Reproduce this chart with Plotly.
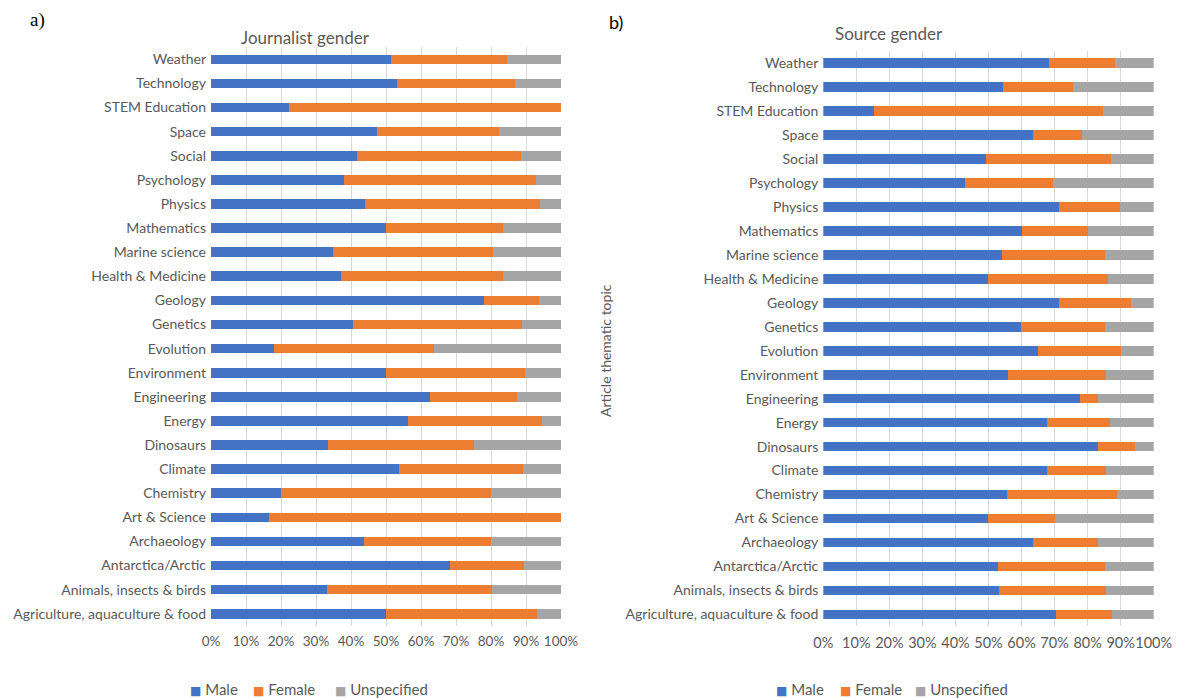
import plotly.graph_objects as go

W, H = 1178, 698

topics = [
    "Weather", "Technology", "STEM Education", "Space", "Social", "Psychology",
    "Physics", "Mathematics", "Marine science", "Health & Medicine", "Geology",
    "Genetics", "Evolution", "Environment", "Engineering", "Energy", "Dinosaurs",
    "Climate", "Chemistry", "Art & Science", "Archaeology", "Antarctica/Arctic",
    "Animals, insects & birds", "Agriculture, aquaculture & food",
]

# a) Journalist gender (% of articles)
journalist_male = [51.4, 53.1, 22.2, 47.4, 41.7, 38.0, 44.0, 50.0, 34.9, 37.0, 78.1, 40.6,
                   18.1, 50.0, 62.5, 56.3, 33.3, 53.7, 20.0, 16.6, 43.6, 68.3, 33.1, 50.0]
journalist_female = [33.2, 33.7, 77.8, 34.8, 46.8, 54.9, 50.0, 33.3, 45.6, 46.5, 15.6, 48.3,
                     45.5, 39.7, 25.0, 38.3, 41.7, 35.5, 60.0, 83.4, 36.4, 21.1, 47.3, 43.1]
journalist_unspecified = [15.4, 13.2, 0.0, 17.8, 11.5, 7.1, 6.0, 16.7, 19.5, 16.5, 6.3, 11.1,
                          36.4, 10.3, 12.5, 5.4, 25.0, 10.8, 20.0, 0.0, 20.0, 10.6, 19.6, 6.9]

# b) Source gender (% of sources)
source_male = [68.2, 54.5, 15.3, 63.4, 49.3, 42.9, 71.2, 60.0, 54.1, 50.0, 71.2, 59.8,
               65.0, 55.9, 77.7, 67.8, 83.2, 67.6, 55.5, 50.0, 63.5, 52.9, 53.1, 70.3]
source_female = [20.1, 21.1, 69.3, 14.9, 37.7, 26.7, 18.6, 20.0, 31.2, 36.2, 22.0, 25.5,
                 25.0, 29.7, 5.5, 19.1, 11.1, 18.0, 33.3, 20.0, 19.6, 32.4, 32.6, 17.0]
source_unspecified = [11.7, 24.4, 15.4, 21.7, 13.0, 30.4, 10.2, 20.0, 14.7, 13.8, 6.8, 14.7,
                      10.0, 14.4, 16.8, 13.1, 5.7, 14.4, 11.2, 30.0, 16.9, 14.7, 14.3, 12.7]

series_names = ["Male", "Female", "Unspecified"]
series_colors = ["#4472C4", "#ED7D31", "#A5A5A5"]
x_tickvals = [0, 10, 20, 30, 40, 50, 60, 70, 80, 90, 100]
x_ticktext = ["0%", "10%", "20%", "30%", "40%", "50%", "60%", "70%", "80%", "90%", "100%"]

FONT = "Lato, 'Open Sans', sans-serif"
GREY = "#595959"

fig = go.Figure()

left = [journalist_male, journalist_female, journalist_unspecified]
right = [source_male, source_female, source_unspecified]

for name, color, vals in zip(series_names, series_colors, left):
    fig.add_trace(go.Bar(
        y=topics, x=vals, name=name, orientation="h",
        marker=dict(color=color, line=dict(width=0)),
        xaxis="x", yaxis="y", showlegend=False,
    ))
for name, color, vals in zip(series_names, series_colors, right):
    fig.add_trace(go.Bar(
        y=topics, x=vals, name=name, orientation="h",
        marker=dict(color=color, line=dict(width=0)),
        xaxis="x2", yaxis="y2", showlegend=False,
    ))


def px_x(p):
    return p / W


def px_y(p):
    return 1 - p / H


xcommon = dict(
    range=[0, 100], tickmode="array", tickvals=x_tickvals, ticktext=x_ticktext,
    showgrid=True, gridcolor="#D9D9D9", gridwidth=1,
    zeroline=False, showline=False, ticks="", ticklabelstandoff=6,
    tickangle=0, automargin=False, fixedrange=True,
)
ycommon = dict(
    autorange="reversed", showgrid=False, zeroline=False, showline=False,
    ticks="", tickfont=dict(family=FONT, size=14, color=GREY),
    ticklabelstandoff=4, automargin=False, fixedrange=True,
)

fig.update_layout(
    width=W, height=H, autosize=False,
    margin=dict(l=0, r=0, t=0, b=0, pad=0, autoexpand=False),
    paper_bgcolor="white", plot_bgcolor="white",
    barmode="stack", bargap=0.6,
    font=dict(family=FONT, color=GREY),
    xaxis=dict(domain=[px_x(211), px_x(561)], anchor="y",
               tickfont=dict(family=FONT, size=13.5, color=GREY), **xcommon),
    yaxis=dict(domain=[px_y(625.8), px_y(47.3)], anchor="x", **ycommon),
    xaxis2=dict(domain=[px_x(823.3), px_x(1153.7)], anchor="y2",
                tickfont=dict(family=FONT, size=14.5, color=GREY), **xcommon),
    yaxis2=dict(domain=[px_y(626.3), px_y(51.3)], anchor="x2", **ycommon),
    showlegend=False,
)

annotations = [
    dict(text="a)", x=px_x(37), y=px_y(19.5), xanchor="center",
         font=dict(family="Liberation Serif", size=19, color="black")),
    dict(text="b)", x=px_x(615.5), y=px_y(22.5), xanchor="center",
         font=dict(family=FONT, size=18, color="black")),
    dict(text="Journalist gender", x=px_x(305), y=px_y(37), xanchor="center",
         font=dict(family=FONT, size=17, color=GREY)),
    dict(text="Source gender", x=px_x(889), y=px_y(33), xanchor="center",
         font=dict(family=FONT, size=17, color=GREY)),
    dict(text="Article thematic topic", x=px_x(605), y=px_y(351), xanchor="center", textangle=-90,
         font=dict(family=FONT, size=14, color=GREY)),
]

# legends (one under each panel): coloured square glyph + series name
legend_left_x = [188, 251, 333]
legend_right_x = [773.5, 838, 913]
for xs in (legend_left_x, legend_right_x):
    for name, color, xpos in zip(series_names, series_colors, xs):
        annotations.append(dict(
            text=f"<span style='color:{color};font-size:12px;font-family:DejaVu Sans'>■</span> {name}",
            x=px_x(xpos), y=px_y(689), xanchor="left",
            font=dict(family=FONT, size=15, color=GREY),
        ))

for a in annotations:
    a.update(xref="paper", yref="paper", showarrow=False, yanchor="middle")
fig.update_layout(annotations=annotations)

fig.write_html(
    "out.html",
    post_script="document.body.style.margin='0';document.body.style.overflow='hidden';",
)
